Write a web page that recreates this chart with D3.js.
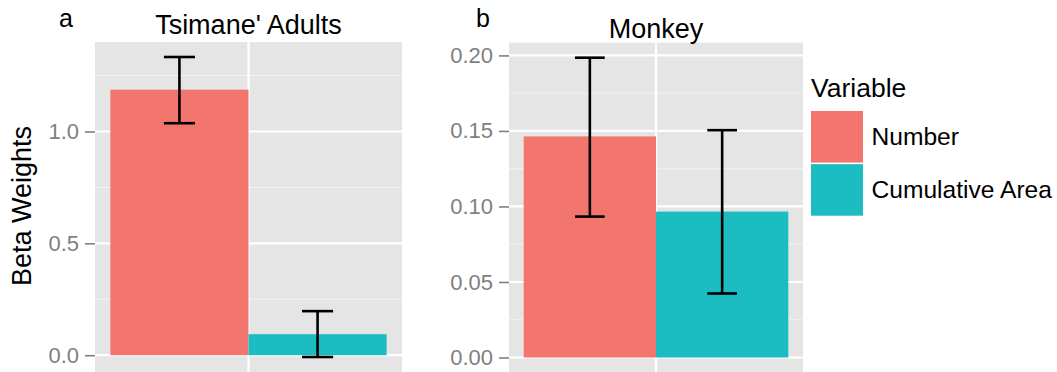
<!DOCTYPE html>
<html>
<head>
<meta charset="utf-8">
<script src="https://cdnjs.cloudflare.com/ajax/libs/d3/7.8.5/d3.min.js"></script>
<style>
  body { margin: 0; background: #fff; }
  text { font-family: "Liberation Sans", Arial, sans-serif; }
</style>
</head>
<body>
<div id="chart"></div>
<script>
// Beta weights, two panels

var categories = ["Number", "Cumulative Area"];
var panelTitles = ["Tsimane' Adults", "Monkey"];
var panelLetters = ["a", "b"];

var tsimaneBeta = [1.187, 0.094];
var tsimaneLower = [1.037, -0.008];
var tsimaneUpper = [1.333, 0.197];

var monkeyBeta = [0.1464, 0.0966];
var monkeyLower = [0.0933, 0.0424];
var monkeyUpper = [0.1985, 0.1505];

var tsimaneTicks = [0, 0.5, 1.0];
var monkeyTicks = [0, 0.05, 0.10, 0.15, 0.20];

var colors = ["#F3766E", "#1BBDC2"];

var svgWidth = 1057;
var svgHeight = 372;

var svg = d3.select("#chart")
  .append("svg")
  .attr("width", svgWidth)
  .attr("height", svgHeight);

var color = d3.scaleOrdinal().domain(categories).range(colors);

function drawPanel(p) {
  var g = svg.append("g");

  // ggplot style 5% expansion of the y range
  var lo = Math.min(0, d3.min(p.lower));
  var hi = Math.max(0, d3.max(p.upper));
  var pad = (hi - lo) * 0.05;

  var y = d3.scaleLinear()
    .domain([lo - pad, hi + pad])
    .range([p.bottom, p.top]);

  var x = d3.scaleBand()
    .domain(categories)
    .range([p.left, p.right])
    .paddingInner(0)
    .paddingOuter(1 / 9);

  // panel background
  g.append("rect")
    .attr("x", p.left)
    .attr("y", p.top)
    .attr("width", p.right - p.left)
    .attr("height", p.bottom - p.top)
    .attr("fill", "#E5E5E5");

  // minor grid, halfway between the major ticks
  var minor = [];
  for (var i = 0; i < p.ticks.length - 1; i++) {
    minor.push((p.ticks[i] + p.ticks[i + 1]) / 2);
  }
  var stepT = p.ticks[1] - p.ticks[0];
  var extra = p.ticks[p.ticks.length - 1] + stepT / 2;
  if (extra < y.domain()[1]) minor.push(extra);

  g.selectAll(".minor")
    .data(minor)
    .enter()
    .append("line")
    .attr("x1", p.left)
    .attr("x2", p.right)
    .attr("y1", d => y(d))
    .attr("y2", d => y(d))
    .attr("stroke", "#F2F2F2")
    .attr("stroke-width", 1.1);

  g.selectAll(".major")
    .data(p.ticks)
    .enter()
    .append("line")
    .attr("x1", p.left)
    .attr("x2", p.right)
    .attr("y1", d => y(d))
    .attr("y2", d => y(d))
    .attr("stroke", "#FFFFFF")
    .attr("stroke-width", 2.2);

  // single discrete x position
  var cx = (p.left + p.right) / 2;
  g.append("line")
    .attr("x1", cx)
    .attr("x2", cx)
    .attr("y1", p.top)
    .attr("y2", p.bottom)
    .attr("stroke", "#FFFFFF")
    .attr("stroke-width", 2.2);

  // bars
  g.selectAll(".bar")
    .data(categories)
    .enter()
    .append("rect")
    .attr("x", d => x(d))
    .attr("y", (d, i) => Math.min(y(p.beta[i]), y(0)))
    .attr("width", x.bandwidth())
    .attr("height", (d, i) => Math.abs(y(0) - y(p.beta[i])))
    .attr("fill", d => color(d));

  // error bars
  var capW = x.bandwidth() * 0.225;
  var eb = g.selectAll(".err")
    .data(categories)
    .enter()
    .append("g")
    .attr("stroke", "#000")
    .attr("stroke-width", 2.6)
    .attr("fill", "none");

  eb.append("line")
    .attr("x1", d => x(d) + x.bandwidth() / 2)
    .attr("x2", d => x(d) + x.bandwidth() / 2)
    .attr("y1", (d, i) => y(p.lower[i]))
    .attr("y2", (d, i) => y(p.upper[i]));

  eb.append("line")
    .attr("x1", d => x(d) + x.bandwidth() / 2 - capW / 2)
    .attr("x2", d => x(d) + x.bandwidth() / 2 + capW / 2)
    .attr("y1", (d, i) => y(p.lower[i]))
    .attr("y2", (d, i) => y(p.lower[i]));

  eb.append("line")
    .attr("x1", d => x(d) + x.bandwidth() / 2 - capW / 2)
    .attr("x2", d => x(d) + x.bandwidth() / 2 + capW / 2)
    .attr("y1", (d, i) => y(p.upper[i]))
    .attr("y2", (d, i) => y(p.upper[i]));

  // y axis
  var leftAxis = d3.axisLeft(y)
    .tickValues(p.ticks)
    .tickFormat(d3.format(p.format))
    .tickSize(10)
    .tickPadding(6);

  var ax = g.append("g")
    .attr("transform", `translate(${p.left}, 0)`)
    .call(leftAxis);
  ax.select(".domain").remove();
  ax.selectAll(".tick line")
    .attr("stroke", "#7F7F7F")
    .attr("stroke-width", 1.6);
  ax.selectAll(".tick text")
    .attr("fill", "#7F7F7F")
    .style("font-size", "22px")
    .style("font-family", "'Liberation Sans', Arial, sans-serif");

  // panel title
  g.append("text")
    .attr("x", cx)
    .attr("y", p.titleY)
    .attr("text-anchor", "middle")
    .style("font-size", "27px")
    .text(p.title);

  // panel letter
  g.append("text")
    .attr("x", p.letterX)
    .attr("y", 27)
    .style("font-size", "25px")
    .text(p.letter);
}

drawPanel({
  left: 95, right: 402, top: 42, bottom: 372,
  beta: tsimaneBeta, lower: tsimaneLower, upper: tsimaneUpper,
  ticks: tsimaneTicks, format: ".1f",
  title: panelTitles[0], titleY: 33.5,
  letter: panelLetters[0], letterX: 59
});

drawPanel({
  left: 509, right: 803, top: 42.7, bottom: 372.5,
  beta: monkeyBeta, lower: monkeyLower, upper: monkeyUpper,
  ticks: monkeyTicks, format: ".2f",
  title: panelTitles[1], titleY: 38.3,
  letter: panelLetters[1], letterX: 476
});

// y axis title
svg.append("text")
  .attr("transform", "rotate(-90)")
  .attr("x", -206)
  .attr("y", 31)
  .attr("text-anchor", "middle")
  .style("font-size", "27px")
  .text("Beta Weights");

// legend
var legend = svg.append("g")
  .attr("transform", "translate(811, 0)");

legend.append("text")
  .attr("x", 0)
  .attr("y", 97.3)
  .style("font-size", "26.5px")
  .text("Variable");

var keyY = d3.scaleBand()
  .domain(categories)
  .range([111, 215.7])
  .paddingInner(0.03);

legend.selectAll(".key")
  .data(categories)
  .enter()
  .append("rect")
  .attr("x", 0)
  .attr("y", d => keyY(d))
  .attr("width", 52)
  .attr("height", keyY.bandwidth())
  .attr("fill", d => color(d));

legend.selectAll(".lab")
  .data(categories)
  .enter()
  .append("text")
  .attr("x", 60.5)
  .attr("y", d => keyY(d) + keyY.bandwidth() / 2 + 8.5)
  .style("font-size", "24.6px")
  .text(d => d);
</script>
</body>
</html>
